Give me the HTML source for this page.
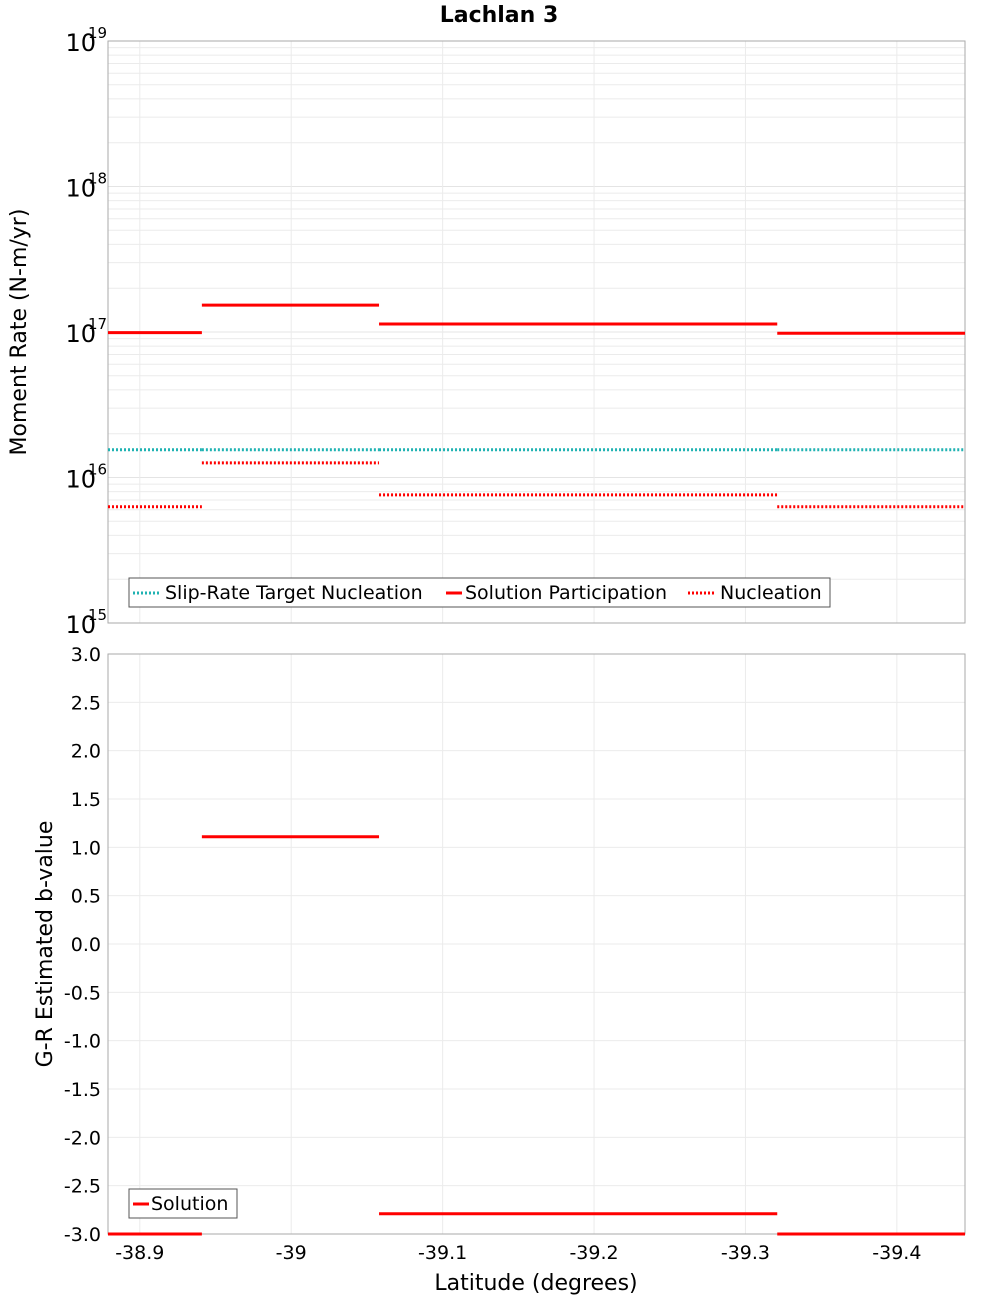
<!DOCTYPE html>
<html><head><meta charset="utf-8"><style>
body{margin:0;background:#fff;}
svg{display:block;font-family:"DejaVu Sans","Liberation Sans",sans-serif;}
</style></head><body>
<svg id="chart" width="1000" height="1300" viewBox="0 0 1000 1300">
<text x="499" y="22" text-anchor="middle" font-size="22" font-weight="bold">Lachlan 3</text>
<g id="gtop"></g>
<g id="gbot"></g>
<text transform="translate(26,332) rotate(-90)" text-anchor="middle" font-size="22">Moment Rate (N-m/yr)</text>
<text transform="translate(52,944) rotate(-90)" text-anchor="middle" font-size="22">G-R Estimated b-value</text>
<text x="536" y="1290" text-anchor="middle" font-size="22">Latitude (degrees)</text>
<g>
<rect x="129" y="578" width="701" height="29" fill="#fff" stroke="#555" stroke-width="1"/>
<line x1="133" x2="161" y1="593" y2="593" stroke="#1fb2b2" stroke-width="3" stroke-dasharray="2,2"/>
<text x="165" y="599" font-size="19">Slip-Rate Target Nucleation</text>
<line x1="446" x2="462" y1="593" y2="593" stroke="#ff0000" stroke-width="3"/>
<text x="465" y="599" font-size="19">Solution Participation</text>
<line x1="688" x2="716" y1="593" y2="593" stroke="#ff0000" stroke-width="3" stroke-dasharray="2,2"/>
<text x="720" y="599" font-size="19">Nucleation</text>
</g>
<g>
<rect x="129" y="1189" width="108" height="29" fill="#fff" stroke="#555" stroke-width="1"/>
<line x1="133" x2="149" y1="1204" y2="1204" stroke="#ff0000" stroke-width="3"/>
<text x="151" y="1210" font-size="19">Solution</text>
</g>
</svg>
<script>
const segStart = [-38.879, -38.941, -39.058, -39.321];
const segEnd = [-38.941, -39.058, -39.321, -39.445];
const participation = [0.99e17, 1.53e17, 1.135e17, 0.98e17];
const slipTarget = [1.55e16, 1.55e16, 1.55e16, 1.55e16];
const nucleation = [6.3e15, 1.26e16, 7.6e15, 6.3e15];
const bValues = [-3.0, 1.11, -2.79, -3.0];
const xTicks = [-38.9, -39.0, -39.1, -39.2, -39.3, -39.4];
const xTickLabels = ["-38.9", "-39", "-39.1", "-39.2", "-39.3", "-39.4"];
const yExps = [15, 16, 17, 18, 19];
const bTicks = [3.0, 2.5, 2.0, 1.5, 1.0, 0.5, 0.0, -0.5, -1.0, -1.5, -2.0, -2.5, -3.0];

const NS = "http://www.w3.org/2000/svg";
const L = 108, R = 965, T1 = 41, B1 = 623, T2 = 654, B2 = 1234;
const xMin = -38.879, xMax = -39.445;
const xs = v => L + (v - xMin) / (xMax - xMin) * (R - L);
const ys1 = v => B1 - (Math.log10(v) - 15) / 4 * (B1 - T1);
const ys2 = v => B2 - (v + 3) / 6 * (B2 - T2);
function mk(parent, tag, attrs) {
  const e = document.createElementNS(NS, tag);
  for (const k in attrs) e.setAttribute(k, attrs[k]);
  parent.appendChild(e); return e;
}
const gTop = document.getElementById('gtop'), gBot = document.getElementById('gbot');

for (let e = 15; e < 19; e++) for (let m = 2; m <= 9; m++) {
  const y = ys1(m * Math.pow(10, e));
  const g = mk(gTop, 'line', {x1: L, x2: R, y1: y, y2: y, stroke: '#ebebeb', 'stroke-width': 1});
  
  
}
yExps.forEach(e => {
  const y = ys1(Math.pow(10, e));
  const g = mk(gTop, 'line', {x1: L, x2: R, y1: y, y2: y, stroke: '#e4e4e4', 'stroke-width': 1});
  
  
  const t = mk(gTop, 'text', {x: 96, y: y + 10, 'text-anchor': 'end', 'font-size': 24});
  
  
  t.textContent = '10';
  const s = mk(gTop, 'text', {x: 88, y: y - 3, 'font-size': 15});
  
  
  s.textContent = String(e);
});
bTicks.forEach(v => {
  const y = ys2(v);
  const g = mk(gBot, 'line', {x1: L, x2: R, y1: y, y2: y, stroke: '#ebebeb', 'stroke-width': 1});
  
  
  const t = mk(gBot, 'text', {x: 101, y: y + 7, 'text-anchor': 'end', 'font-size': 19});
  
  
  t.textContent = v.toFixed(1);
});
xTicks.forEach((v, i) => {
  const x = xs(v);
  [[T1, B1, gTop], [T2, B2, gBot]].forEach(([a, b, p]) => {
    const g = mk(p, 'line', {x1: x, x2: x, y1: a, y2: b, stroke: '#ebebeb', 'stroke-width': 1});
    
    
  });
  const t = mk(gBot, 'text', {x: x, y: 1259, 'text-anchor': 'middle', 'font-size': 19});
  
  
  t.textContent = xTickLabels[i];
});
[[T1, B1, gTop], [T2, B2, gBot]].forEach(([a, b, p]) => {
  const r = mk(p, 'rect', {x: L, y: a, width: R - L, height: b - a, fill: 'none', stroke: '#aaa', 'stroke-width': 1});
  
  
});
function seg(p, arr, yf, color, dash, w, name) {
  arr.forEach((v, i) => {
    const y = yf(v);
    const a = {x1: xs(segStart[i]), x2: xs(segEnd[i]), y1: y, y2: y, stroke: color, 'stroke-width': w};
    if (dash) a['stroke-dasharray'] = dash;
    const l = mk(p, 'line', a);
    
    
  });
}
seg(gTop, slipTarget, ys1, '#1fb2b2', '2,2', 3, 'slip-rate-target-segment');
seg(gTop, nucleation, ys1, '#ff0000', '2,2', 3, 'nucleation-segment');
seg(gTop, participation, ys1, '#ff0000', null, 3, 'participation-segment');
seg(gBot, bValues, ys2, '#ff0000', null, 3, 'b-value-segment');
</script>
</body></html>
